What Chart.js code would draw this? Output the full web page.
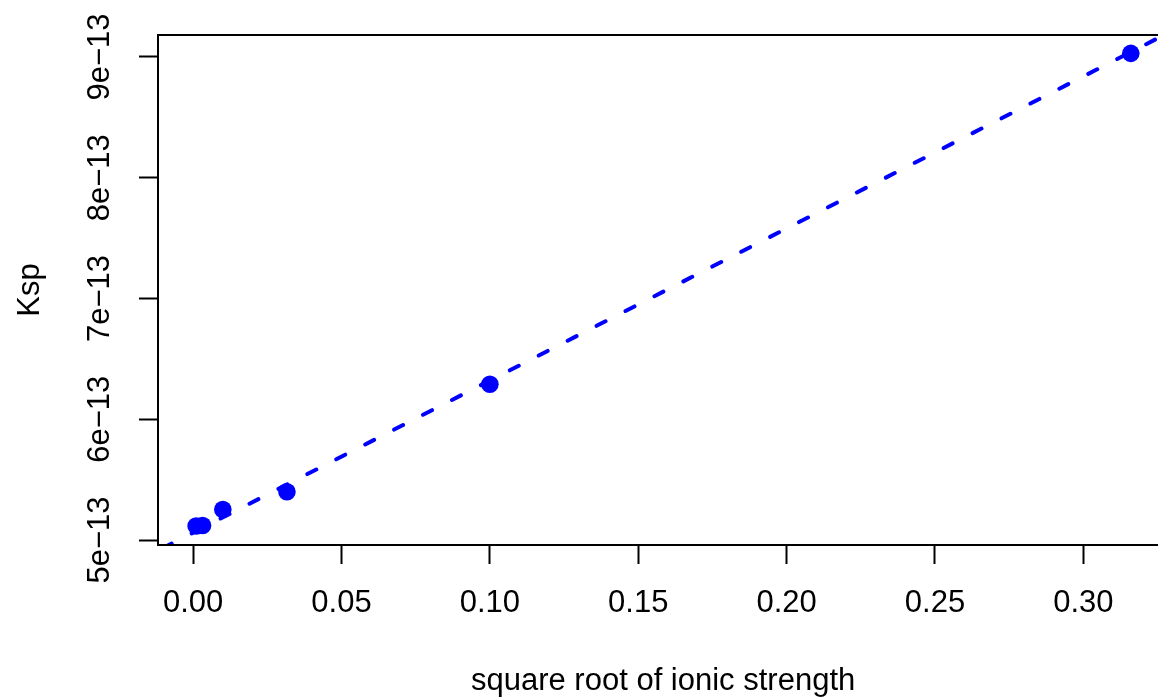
<!DOCTYPE html>
<html lang="en">
  <head>
    <meta charset="UTF-8" />
    <title>Ksp vs square root of ionic strength</title>
    <script src="https://cdn.jsdelivr.net/npm/chart.js@4.4.1/dist/chart.umd.min.js"></script>
    <style>
      body { margin: 0; background: #fff; overflow: hidden; }
      #wrap { width: 1177px; height: 697px; }
    </style>
  </head>
  <body>
    <div id="wrap"><canvas id="grafico" width="1177" height="697"></canvas></div>
  </body>
</html>

<script>
  // measured points (x = sqrt of ionic strength)
  const sqrtI = [0.001, 0.00316, 0.01, 0.0316, 0.1, 0.316];
  const ksp = [5.116e-13, 5.12e-13, 5.253e-13, 5.40e-13, 6.29e-13, 9.03e-13];

  const fitX = [-0.02, 0.34];
  const fitY = [4.81e-13, 9.343e-13];

  const xTicks = [0, 0.05, 0.1, 0.15, 0.2, 0.25, 0.3];
  const xTickLabels = ["0.00", "0.05", "0.10", "0.15", "0.20", "0.25", "0.30"];
  const yTicks = [5e-13, 6e-13, 7e-13, 8e-13, 9e-13];
  const yTickLabels = ["5e\u221213", "6e\u221213", "7e\u221213", "8e\u221213", "9e\u221213"];

  const azul = "#0000ff";
  const fonte = { family: "'Liberation Sans', Arial, sans-serif", size: 31 };

  const caixa = {
    id: "caixa",
    afterDraw(chart) {
      const a = chart.chartArea;
      const ctx = chart.ctx;
      ctx.save();
      ctx.strokeStyle = "#000";
      ctx.lineWidth = 2;
      ctx.strokeRect(a.left, a.top, a.right - a.left, a.bottom - a.top);
      ctx.restore();
    },
  };

  new Chart("grafico", {
    type: "scatter",
    data: {
      datasets: [
        {
          label: "Ksp",
          data: sqrtI.map((x, i) => ({ x: x, y: ksp[i] })),
          pointRadius: 8.8,
          pointHoverRadius: 8.8,
          pointBackgroundColor: azul,
          pointBorderWidth: 0,
        },
        {
          label: "fit",
          data: fitX.map((x, i) => ({ x: x, y: fitY[i] })),
          showLine: true,
          pointRadius: 0,
          borderColor: azul,
          borderWidth: 4,
          borderDash: [10, 22.5],
          borderCapStyle: "round",
        },
      ],
    },
    options: {
      responsive: false,
      animation: false,
      layout: { padding: { top: 35, right: 3, left: 0, bottom: 0 } },
      plugins: { legend: { display: false }, tooltip: { enabled: false } },
      scales: {
        x: {
          type: "linear",
          min: -0.01185,
          max: 0.3286,
          afterFit(s) { s.height = 152; },
          afterBuildTicks(s) { s.ticks = xTicks.map((v) => ({ value: v })); },
          border: { display: false },
          grid: { drawOnChartArea: false, tickLength: 19, tickWidth: 2, tickColor: "#000" },
          ticks: {
            color: "#000",
            font: fonte,
            padding: 21,
            maxRotation: 0,
            callback: (v) => xTickLabels[xTicks.indexOf(v)],
          },
          title: {
            display: true,
            text: "square root of ionic strength",
            color: "#000",
            font: fonte,
            padding: { top: 0, bottom: -3 },
          },
        },
        y: {
          type: "linear",
          min: 4.959e-13,
          max: 9.182e-13,
          afterFit(s) { s.width = 158; },
          afterBuildTicks(s) { s.ticks = yTicks.map((v) => ({ value: v })); },
          border: { display: false },
          grid: { drawOnChartArea: false, tickLength: 19, tickWidth: 2, tickColor: "#000" },
          ticks: {
            color: "#000",
            font: fonte,
            padding: -5,
            minRotation: 90,
            maxRotation: 90,
            crossAlign: "center",
            callback: (v) => yTickLabels[yTicks.indexOf(v)],
          },
          title: {
            display: true,
            text: "Ksp",
            color: "#000",
            font: fonte,
            padding: { top: 12, bottom: 0 },
          },
        },
      },
    },
    plugins: [caixa],
  });
</script>
